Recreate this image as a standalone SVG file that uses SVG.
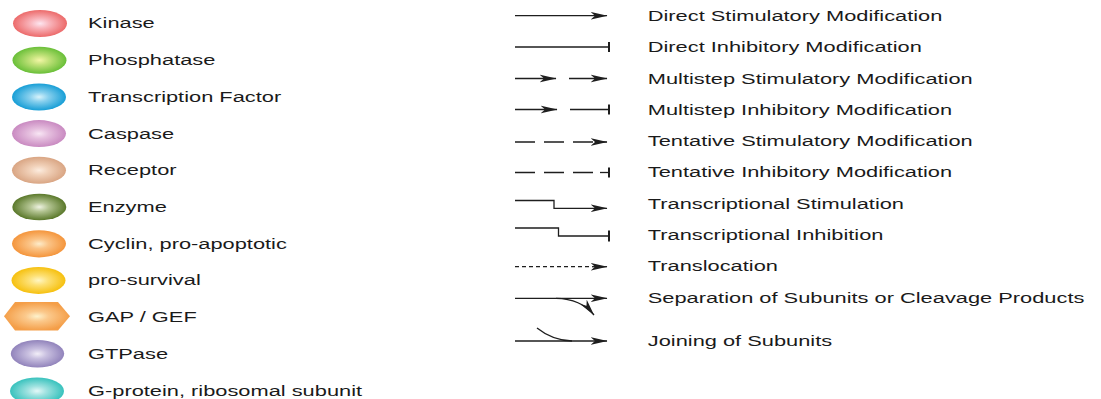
<svg xmlns="http://www.w3.org/2000/svg" width="1101" height="399" viewBox="0 0 1101 399">
<style>
.lbl{font-family:"Liberation Sans",Arial,sans-serif;font-size:15px;fill:#1a1a1a}
.ln{fill:none;stroke:#1e1e1e;stroke-width:1.3}
.bar{stroke:#1e1e1e;stroke-width:2}
.arr{marker-end:url(#ah)}
</style>
<defs>
<marker id="ah" markerUnits="userSpaceOnUse" viewBox="0 0 17 9" refX="16.5" refY="4.5" markerWidth="17" markerHeight="9" orient="auto">
<path d="M0,0.6 L17,4.5 L0,8.4 L4.5,4.5 z" fill="#1e1e1e"/>
</marker>
<radialGradient id="gK"><stop offset="0" stop-color="#fde6f0"/><stop offset="0.35" stop-color="#f9b6bd"/><stop offset="1" stop-color="#ec6a6a"/></radialGradient>
<radialGradient id="gP"><stop offset="0" stop-color="#f3f6a6"/><stop offset="0.35" stop-color="#c2e27a"/><stop offset="1" stop-color="#69bf38"/></radialGradient>
<radialGradient id="gT"><stop offset="0" stop-color="#d8f3fb"/><stop offset="0.35" stop-color="#88d0ee"/><stop offset="1" stop-color="#179ed6"/></radialGradient>
<radialGradient id="gC"><stop offset="0" stop-color="#f8e6f4"/><stop offset="0.35" stop-color="#e6c0df"/><stop offset="1" stop-color="#c98ac1"/></radialGradient>
<radialGradient id="gR"><stop offset="0" stop-color="#fcecdf"/><stop offset="0.35" stop-color="#f1d1b9"/><stop offset="1" stop-color="#d9a583"/></radialGradient>
<radialGradient id="gE"><stop offset="0" stop-color="#eef2e2"/><stop offset="0.35" stop-color="#b3c492"/><stop offset="1" stop-color="#5a782a"/></radialGradient>
<radialGradient id="gY"><stop offset="0" stop-color="#fdecca"/><stop offset="0.35" stop-color="#fbc487"/><stop offset="1" stop-color="#f4953c"/></radialGradient>
<radialGradient id="gS"><stop offset="0" stop-color="#fff6c4"/><stop offset="0.35" stop-color="#fde177"/><stop offset="1" stop-color="#f6c00e"/></radialGradient>
<radialGradient id="gG"><stop offset="0" stop-color="#fef2cc"/><stop offset="0.35" stop-color="#fbc98c"/><stop offset="1" stop-color="#f49e48"/></radialGradient>
<radialGradient id="gV"><stop offset="0" stop-color="#f2eef8"/><stop offset="0.35" stop-color="#c9c0e0"/><stop offset="1" stop-color="#9183bb"/></radialGradient>
<radialGradient id="gQ"><stop offset="0" stop-color="#e4f8f8"/><stop offset="0.35" stop-color="#9fe2e0"/><stop offset="1" stop-color="#38c2bd"/></radialGradient>
</defs>

<g id="shape-legend">
<g id="kinase"><ellipse cx="40" cy="23.5" rx="27" ry="13.5" fill="url(#gK)"/><text class="lbl" transform="scale(1.455 1)" x="60.5" y="28.5">Kinase</text></g>
<g id="phosphatase"><ellipse cx="39.5" cy="60.2" rx="27" ry="13.5" fill="url(#gP)"/><text class="lbl" transform="scale(1.455 1)" x="60.5" y="65.2">Phosphatase</text></g>
<g id="transcription-factor"><ellipse cx="39" cy="97" rx="27" ry="13.5" fill="url(#gT)"/><text class="lbl" transform="scale(1.455 1)" x="60.5" y="102">Transcription Factor</text></g>
<g id="caspase"><ellipse cx="39" cy="133.6" rx="27" ry="13.5" fill="url(#gC)"/><text class="lbl" transform="scale(1.455 1)" x="60.5" y="138.6">Caspase</text></g>
<g id="receptor"><ellipse cx="39" cy="170.3" rx="27" ry="13.5" fill="url(#gR)"/><text class="lbl" transform="scale(1.455 1)" x="60.5" y="175.3">Receptor</text></g>
<g id="enzyme"><ellipse cx="39.3" cy="207" rx="27" ry="13.3" fill="url(#gE)"/><text class="lbl" transform="scale(1.455 1)" x="60.5" y="212">Enzyme</text></g>
<g id="cyclin"><ellipse cx="39" cy="243.8" rx="27" ry="13.6" fill="url(#gY)"/><text class="lbl" transform="scale(1.455 1)" x="60.5" y="248.8">Cyclin, pro-apoptotic</text></g>
<g id="pro-survival"><ellipse cx="38.5" cy="280.4" rx="27" ry="13.5" fill="url(#gS)"/><text class="lbl" transform="scale(1.455 1)" x="60.5" y="285.4">pro-survival</text></g>
<g id="gap-gef"><polygon points="4,316.3 15,302 58,302 70,316.3 58,330.6 15,330.6" fill="url(#gG)"/><text class="lbl" transform="scale(1.455 1)" x="60.5" y="322">GAP / GEF</text></g>
<g id="gtpase"><ellipse cx="37.5" cy="353.8" rx="26.7" ry="13.8" fill="url(#gV)"/><text class="lbl" transform="scale(1.455 1)" x="60.5" y="358.8">GTPase</text></g>
<g id="g-protein"><ellipse cx="37" cy="391" rx="27" ry="13.5" fill="url(#gQ)"/><text class="lbl" transform="scale(1.455 1)" x="60.5" y="396">G-protein, ribosomal subunit</text></g>
</g>

<g id="connectors">
<line class="ln arr" x1="515" y1="15.7" x2="607" y2="15.7"/>
<line class="ln" x1="515" y1="47" x2="608.5" y2="47"/><line class="bar" x1="609" y1="42" x2="609" y2="52"/>
<line class="ln arr" x1="515" y1="78.5" x2="556" y2="78.5"/><line class="ln arr" x1="569" y1="78.5" x2="607" y2="78.5"/>
<line class="ln arr" x1="515" y1="109.5" x2="557" y2="109.5"/><line class="ln" x1="570" y1="109.5" x2="608.5" y2="109.5"/><line class="bar" x1="609" y1="104.5" x2="609" y2="114.5"/>
<line class="ln arr" x1="515" y1="142" x2="607" y2="142" stroke-dasharray="20 9"/>
<line class="ln" x1="515" y1="172.5" x2="593" y2="172.5" stroke-dasharray="20 9"/><line class="ln" x1="600" y1="172.5" x2="608.5" y2="172.5"/><line class="bar" x1="609" y1="167.5" x2="609" y2="177.5"/>
<path class="ln arr" d="M515,200.5 H554 V208.3 H607"/>
<path class="ln" d="M515,228 H558.5 V236 H608.5"/><line class="bar" x1="609" y1="230.5" x2="609" y2="241.5"/>
<line class="ln" x1="515" y1="266.7" x2="592" y2="266.7" stroke="#555" stroke-dasharray="4 3"/><line class="ln arr" x1="592" y1="266.7" x2="607" y2="266.7"/>
<line class="ln arr" x1="515" y1="298.3" x2="607" y2="298.3"/>
<path class="ln arr" d="M556,298.3 C574,298.5 586,305 594,315"/>
<line class="ln arr" x1="515" y1="341" x2="607" y2="341"/>
<path class="ln" d="M537,328 C547,336 557,340.5 572,341"/>
</g>

<g id="line-legend">
<text class="lbl" transform="scale(1.455 1)" x="445.2" y="21">Direct Stimulatory Modification</text>
<text class="lbl" transform="scale(1.455 1)" x="445.2" y="52.3">Direct Inhibitory Modification</text>
<text class="lbl" transform="scale(1.455 1)" x="445.2" y="83.6">Multistep Stimulatory Modification</text>
<text class="lbl" transform="scale(1.455 1)" x="445.2" y="114.9">Multistep Inhibitory Modification</text>
<text class="lbl" transform="scale(1.455 1)" x="445.2" y="146.2">Tentative Stimulatory Modification</text>
<text class="lbl" transform="scale(1.455 1)" x="445.2" y="177.5">Tentative Inhibitory Modification</text>
<text class="lbl" transform="scale(1.455 1)" x="445.2" y="208.8">Transcriptional Stimulation</text>
<text class="lbl" transform="scale(1.455 1)" x="445.2" y="240.1">Transcriptional Inhibition</text>
<text class="lbl" transform="scale(1.455 1)" x="445.2" y="271.4">Translocation</text>
<text class="lbl" transform="scale(1.455 1)" x="445.2" y="302.7">Separation of Subunits or Cleavage Products</text>
<text class="lbl" transform="scale(1.455 1)" x="445.2" y="346">Joining of Subunits</text>
</g>
</svg>
